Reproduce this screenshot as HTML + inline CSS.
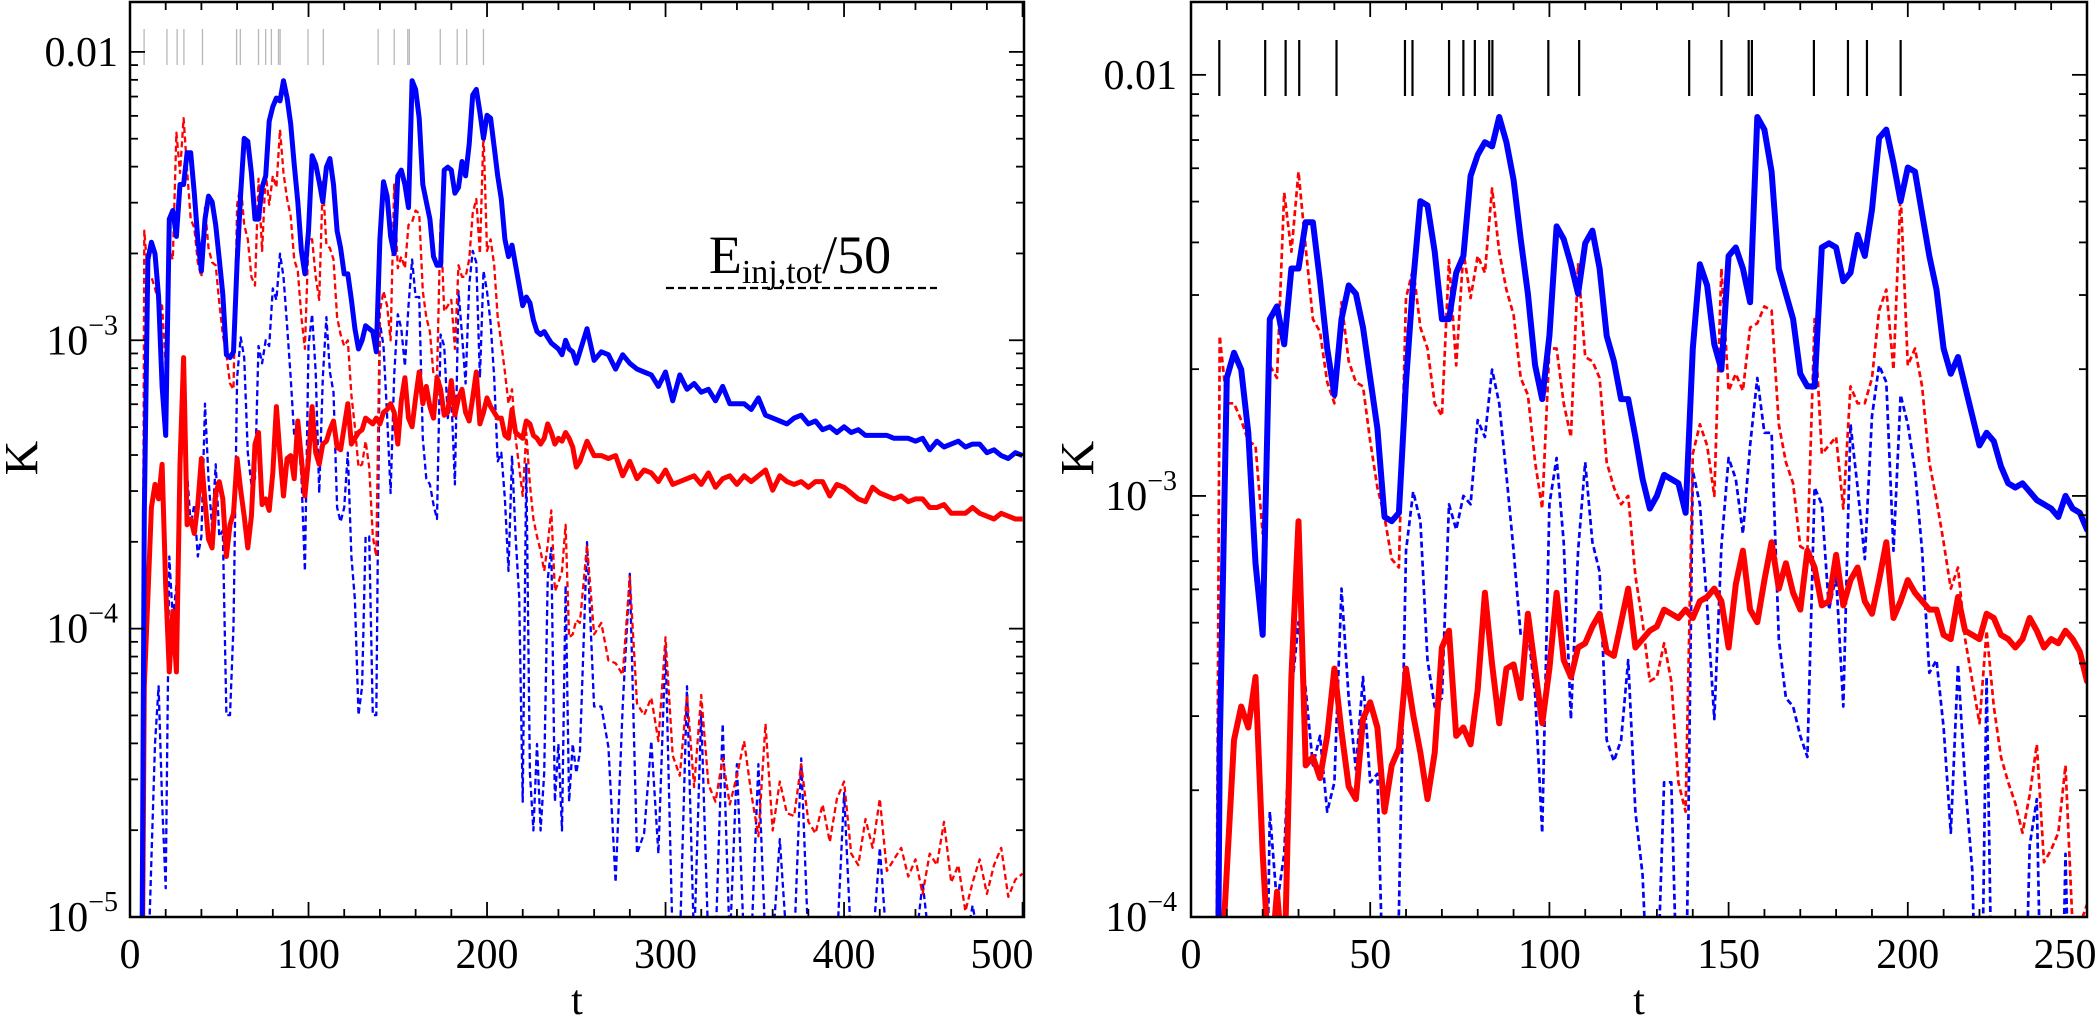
<!DOCTYPE html>
<html><head><meta charset="utf-8">
<style>
html,body{margin:0;padding:0;background:#fff;width:2100px;height:1025px;overflow:hidden;}
svg{display:block;font-family:"Liberation Serif",serif;overflow:hidden;}
</style></head>
<body>
<svg id="chart" width="2100" height="1025" viewBox="0 0 2100 1025" xmlns="http://www.w3.org/2000/svg">
<defs>
<clipPath id="clipL"><rect x="130" y="2" width="894" height="915"/></clipPath>
<clipPath id="clipR"><rect x="1191" y="2" width="896" height="915"/></clipPath>
</defs>
<g id="left"></g>
<g id="right"></g>
<text x="800" y="273" font-size="54" text-anchor="middle">E<tspan font-size="34" dy="10">inj,tot</tspan><tspan dy="-10">/50</tspan></text>
<line x1="666" y1="288" x2="937" y2="288" stroke="#000" stroke-width="2.2" stroke-dasharray="8,4"/>
</svg>
<script>
// ---- data (log10 K) ----
const times = [6,8,10,12,14,16,18,20,22,24,26,28,30,32,34,36,38,40,42,44,46,48,50,52,54,56,58,60,62,64,66,68,70,72,74,76,78,80,82,84,86,88,90,92,94,96,98,100,102,104,106,108,110,112,114,116,118,120,122,124,126,128,130,132,134,136,138,140,142,144,146,148,150,152,154,156,158,160,162,164,166,168,170,172,174,176,178,180,182,184,186,188,190,192,194,196,198,200,202,204,206,208,210,212,214,216,218,220,222,224,226,228,230,232,234,236,238,240,242,244,246,248,250];
const blueSolid = [-6,-3.6,-2.72,-2.66,-2.70,-2.85,-3.16,-3.33,-2.58,-2.55,-2.64,-2.46,-2.46,-2.35,-2.35,-2.49,-2.65,-2.76,-2.58,-2.50,-2.52,-2.60,-2.72,-2.84,-3.05,-3.06,-3.04,-2.73,-2.49,-2.30,-2.31,-2.42,-2.58,-2.58,-2.47,-2.43,-2.24,-2.19,-2.16,-2.17,-2.10,-2.16,-2.25,-2.39,-2.52,-2.69,-2.77,-2.62,-2.36,-2.39,-2.45,-2.52,-2.40,-2.37,-2.46,-2.62,-2.68,-2.77,-2.77,-2.86,-2.96,-3.03,-3.00,-2.95,-2.96,-2.97,-3.04,-2.65,-2.45,-2.50,-2.64,-2.70,-2.43,-2.41,-2.46,-2.54,-2.10,-2.13,-2.23,-2.46,-2.52,-2.58,-2.71,-2.74,-2.74,-2.41,-2.40,-2.41,-2.49,-2.47,-2.38,-2.43,-2.32,-2.15,-2.13,-2.21,-2.30,-2.22,-2.23,-2.33,-2.43,-2.51,-2.65,-2.71,-2.67,-2.74,-2.81,-2.88,-2.85,-2.87,-2.93,-2.97,-2.98,-2.97,-2.99,-3.01,-3.02,-3.03,-3.05,-3.00,-3.03,-3.04,-3.08];
const redSolid = [-6,-4.2,-3.89,-3.58,-3.50,-3.55,-3.43,-3.85,-4.15,-3.94,-4.15,-3.43,-3.06,-3.64,-3.62,-3.67,-3.57,-3.41,-3.56,-3.69,-3.72,-3.53,-3.49,-3.55,-3.75,-3.64,-3.60,-3.41,-3.52,-3.61,-3.72,-3.61,-3.36,-3.32,-3.57,-3.55,-3.59,-3.46,-3.23,-3.40,-3.54,-3.41,-3.40,-3.48,-3.28,-3.41,-3.54,-3.41,-3.23,-3.39,-3.43,-3.36,-3.35,-3.31,-3.28,-3.37,-3.38,-3.30,-3.22,-3.36,-3.34,-3.32,-3.31,-3.27,-3.28,-3.29,-3.27,-3.29,-3.25,-3.24,-3.22,-3.25,-3.36,-3.21,-3.13,-3.27,-3.30,-3.20,-3.11,-3.22,-3.16,-3.23,-3.27,-3.13,-3.17,-3.26,-3.25,-3.14,-3.26,-3.20,-3.17,-3.25,-3.28,-3.20,-3.11,-3.29,-3.25,-3.20,-3.23,-3.25,-3.27,-3.27,-3.33,-3.34,-3.24,-3.32,-3.33,-3.34,-3.28,-3.29,-3.33,-3.34,-3.36,-3.34,-3.29,-3.32,-3.36,-3.34,-3.35,-3.32,-3.34,-3.37,-3.44];
const redDashed = [-6,-2.62,-2.78,-2.78,-2.82,-2.87,-2.88,-3.09,-2.69,-2.72,-2.28,-2.42,-2.23,-2.41,-2.58,-2.61,-2.73,-2.78,-2.54,-2.68,-2.73,-2.74,-2.87,-2.98,-3.05,-3.15,-3.17,-2.53,-2.46,-2.60,-2.65,-2.78,-2.81,-2.44,-2.69,-2.42,-2.53,-2.43,-2.47,-2.27,-2.42,-2.51,-2.57,-2.72,-2.76,-2.92,-3.03,-2.65,-2.65,-2.78,-2.86,-2.45,-2.67,-2.68,-2.72,-2.92,-2.98,-3.02,-3.00,-3.19,-3.30,-3.44,-3.43,-3.35,-3.44,-3.68,-3.75,-2.90,-2.83,-2.88,-3.00,-2.46,-2.75,-2.71,-2.75,-2.60,-2.59,-2.55,-2.56,-2.83,-2.92,-2.97,-3.12,-3.13,-2.58,-2.90,-2.88,-2.86,-3.03,-2.74,-2.78,-2.78,-2.72,-2.56,-2.51,-2.70,-2.28,-2.69,-2.65,-2.74,-2.92,-3.01,-3.11,-3.22,-3.17,-3.34,-3.44,-3.54,-3.32,-3.50,-3.62,-3.68,-3.73,-3.80,-3.71,-3.59,-3.87,-3.84,-3.80,-3.64,-4.03,-4.02,-3.97];
const blueDashed = [-6,-5.2,-5.2,-4.8,-4.4,-4.2,-4.6,-4.9,-3.75,-3.97,-3.85,-3.47,-3.30,-3.46,-3.64,-3.57,-3.75,-3.68,-3.22,-3.48,-3.65,-3.43,-3.68,-3.66,-4.3,-4.3,-3.99,-3.13,-2.99,-3.06,-3.39,-3.50,-3.48,-3.02,-3.08,-3.00,-3.02,-2.82,-2.86,-2.70,-2.78,-2.95,-3.13,-3.33,-3.32,-3.47,-3.80,-3.02,-2.91,-3.11,-3.53,-3.13,-2.92,-3.11,-3.18,-3.58,-3.63,-3.58,-3.39,-3.75,-3.90,-4.3,-4.2,-3.68,-3.68,-4.3,-4.3,-2.94,-3.02,-3.26,-3.53,-3.12,-2.91,-2.96,-3.09,-2.88,-2.72,-2.85,-2.85,-3.34,-3.48,-3.50,-3.57,-3.62,-2.98,-3.02,-3.27,-3.19,-3.50,-2.83,-2.98,-3.15,-2.81,-2.69,-2.73,-3.13,-2.76,-2.83,-2.94,-3.13,-3.42,-3.39,-3.55,-3.80,-3.40,-3.68,-3.89,-4.6,-3.43,-4.5,-4.7,-4.4,-4.7,-4.5,-3.83,-3.72,-4.6,-4.4,-4.7,-3.85,-4.6,-4.4,-4.5];
const tailTimes = [252,256,260,264,268,272,276,280,284,288,292,296,300,304,308,312,316,320,324,328,332,336,340,344,348,352,356,360,364,368,372,376,380,384,388,392,396,400,404,408,412,416,420,424,428,432,436,440,444,448,452,456,460,464,468,472,476,480,484,488,492,496,500];
const blueSolidTail = [-3.04,-2.96,-3.07,-3.04,-3.05,-3.10,-3.05,-3.08,-3.10,-3.11,-3.12,-3.16,-3.11,-3.21,-3.12,-3.17,-3.15,-3.18,-3.17,-3.21,-3.16,-3.22,-3.22,-3.22,-3.24,-3.20,-3.26,-3.27,-3.28,-3.29,-3.27,-3.26,-3.29,-3.28,-3.31,-3.30,-3.32,-3.30,-3.32,-3.31,-3.33,-3.33,-3.33,-3.33,-3.34,-3.34,-3.34,-3.35,-3.34,-3.38,-3.35,-3.37,-3.36,-3.35,-3.37,-3.36,-3.36,-3.39,-3.38,-3.40,-3.41,-3.39,-3.40];
const redSolidTail = [-3.42,-3.35,-3.40,-3.40,-3.41,-3.40,-3.47,-3.42,-3.48,-3.45,-3.46,-3.49,-3.45,-3.50,-3.49,-3.48,-3.47,-3.50,-3.46,-3.51,-3.48,-3.47,-3.50,-3.47,-3.49,-3.47,-3.45,-3.52,-3.47,-3.49,-3.50,-3.49,-3.51,-3.49,-3.49,-3.54,-3.50,-3.51,-3.53,-3.55,-3.56,-3.51,-3.53,-3.54,-3.55,-3.54,-3.56,-3.55,-3.55,-3.58,-3.58,-3.57,-3.60,-3.60,-3.60,-3.58,-3.60,-3.61,-3.62,-3.60,-3.61,-3.62,-3.62];
const redDashedTail = [-3.98,-3.71,-4.02,-3.98,-4.11,-4.12,-4.16,-3.82,-4.26,-4.30,-4.24,-4.39,-4.03,-4.44,-4.51,-4.23,-4.55,-4.23,-4.54,-4.60,-4.45,-4.61,-4.51,-4.39,-4.57,-4.72,-4.33,-4.70,-4.53,-4.64,-4.65,-4.47,-4.67,-4.71,-4.61,-4.74,-4.59,-4.53,-4.78,-4.82,-4.66,-4.76,-4.59,-4.84,-4.80,-4.76,-4.86,-4.80,-4.92,-4.78,-4.82,-4.67,-4.88,-4.82,-4.98,-4.88,-4.80,-4.92,-4.82,-4.76,-4.93,-4.87,-4.85];
const blueDashedTail = [-4.43,-3.70,-4.27,-4.27,-4.41,-4.88,-4.27,-3.81,-4.78,-4.71,-4.39,-4.78,-4.06,-5.1,-5.1,-4.20,-5.1,-4.29,-5.1,-5.1,-4.33,-5.1,-4.47,-5.1,-5.1,-4.47,-5.1,-5.1,-4.73,-5.1,-5.1,-4.45,-5.1,-5.1,-5.1,-5.1,-5.1,-4.57,-5.1,-5.1,-5.1,-5.1,-4.76,-5.1,-5.1,-5.1,-5.1,-5.1,-4.88,-5.1,-5.1,-5.1,-5.1,-5.1,-5.1,-4.96,-5.1,-5.1,-5.1,-5.1,-5.1,-5.1,-5.1];
const eventTimes = [7.9,20.7,26.4,30.2,40.6,59.7,61.8,72.0,76.0,79.2,83.2,84.1,99.7,108.3,139.0,148.0,155.6,156.5,173.8,183.3,188.6,198.0];
const leftXTicks = [0,100,200,300,400,500];
const rightXTicks = [0,50,100,150,200,250];
const leftYDecades = [-5,-4,-3,-2];
const rightYDecades = [-4,-3,-2];

const NS = "http://www.w3.org/2000/svg";
function mk(tag, attrs, parent){ const e=document.createElementNS(NS,tag); for(const k in attrs) e.setAttribute(k,attrs[k]); parent.appendChild(e); return e; }

const panels = {
  left: {g:document.getElementById('left'), x0:130, x1:1024, tmax:500.8, y0:917, y1:2, lmin:-5, lmax:-1.827, clip:'url(#clipL)', minorX:20, majorX:100, xt:leftXTicks, yd:leftYDecades, sw:5, dw:2.3, mark:{c:'#b8b8b8', y1:29, y2:65, w:1.3}, labX:118, kX:22},
  right:{g:document.getElementById('right'), x0:1191, x1:2087, tmax:250, y0:917, y1:2, lmin:-4, lmax:-1.827, clip:'url(#clipR)', minorX:10, majorX:50, xt:rightXTicks, yd:rightYDecades, sw:6, dw:2.7, mark:{c:'#000', y1:40, y2:96, w:2.2}, labX:1177, kX:1078}
};
function X(p,t){ return p.x0 + t/p.tmax*(p.x1-p.x0); }
function Y(p,l){ return p.y0 - (l-p.lmin)/(p.lmax-p.lmin)*(p.y0-p.y1); }

function draw(name){
  const p = panels[name], g = p.g;
  const data = mk('g',{'clip-path':p.clip},g);
  
  
  function series(ts, vs, color, w, dash, label){
    let d='';
    const n=Math.min(ts.length, vs.length);
    for(let i=0;i<n;i++){ if(ts[i]>p.tmax+4) break; d += (i?'L':'M')+X(p,ts[i]).toFixed(1)+','+Y(p,vs[i]).toFixed(1); }
    const a={d:d,fill:'none',stroke:color,'stroke-width':w,'stroke-linejoin':'round'};
    if(dash) a['stroke-dasharray']=dash;
    const el=mk('path',a,data);
    
    
  }
  const cat=(a,b)=>a.concat(b);
  const tt=cat(times,tailTimes);
  series(tt,cat(blueDashed,blueDashedTail),'#0000ff',p.dw,'6,3.5','blue-dashed-line');
  series(tt,cat(redDashed,redDashedTail),'#ff0000',p.dw,'6,3.5','red-dashed-line');
  series(tt,cat(redSolid,redSolidTail),'#ff0000',p.sw,null,'red-solid-line');
  series(tt,cat(blueSolid,blueSolidTail),'#0000ff',p.sw,null,'blue-solid-line');
  eventTimes.forEach(t=>{
    const m=mk('line',{x1:X(p,t),x2:X(p,t),y1:p.mark.y1,y2:p.mark.y2,stroke:p.mark.c,'stroke-width':p.mark.w},g);
    
    
  });
  const fr=mk('rect',{x:p.x0,y:p.y1,width:p.x1-p.x0,height:p.y0-p.y1,fill:'none',stroke:'#000','stroke-width':2.5},g);
  
  
  for(let t=0;t<=p.tmax+0.01;t+=p.minorX){
    const major = Math.abs(t/p.majorX-Math.round(t/p.majorX))<1e-6;
    const L= major?15:8, x=X(p,t);
    mk('line',{x1:x,x2:x,y1:p.y0,y2:p.y0-L,stroke:'#000','stroke-width':1.8},g);
    mk('line',{x1:x,x2:x,y1:p.y1,y2:p.y1+L,stroke:'#000','stroke-width':1.8},g);
  }
  p.xt.forEach(t=>{
    let x=X(p,t); if(x>p.x1-20) x=p.x1-22;
    const tx=mk('text',{x:x,y:968,'font-size':42,'text-anchor':'middle'},g);
    tx.textContent=t;
    
    
  });
  const xt=mk('text',{x:(p.x0+p.x1)/2,y:1014,'font-size':42,'text-anchor':'middle'},g);
  xt.textContent='t';
  
  
  for(let dec=p.lmin; dec<=p.lmax; dec++){
    for(let m=1;m<=9;m++){
      const l=dec+Math.log10(m); if(l>p.lmax) break;
      const y=Y(p,l), L=(m==1)?15:8;
      mk('line',{x1:p.x0,x2:p.x0+L,y1:y,y2:y,stroke:'#000','stroke-width':1.8},g);
      mk('line',{x1:p.x1,x2:p.x1-L,y1:y,y2:y,stroke:'#000','stroke-width':1.8},g);
    }
  }
  p.yd.forEach(dec=>{
    const y=Y(p,dec);
    const tx=mk('text',{x:p.labX,y:y+14,'font-size':42,'text-anchor':'end'},g);
    if(dec===-2){ tx.textContent='0.01'; }
    else {
      const a=document.createElementNS(NS,'tspan'); a.textContent='10'; tx.appendChild(a);
      const b=document.createElementNS(NS,'tspan'); b.setAttribute('font-size','28'); b.setAttribute('dy','-20'); b.textContent='\u2212'+(-dec); tx.appendChild(b);
    }
    
    
  });
  const kt=mk('text',{x:p.kX,y:458,'font-size':48,'text-anchor':'middle',transform:'rotate(-90 '+p.kX+' 458)','dominant-baseline':'central'},g);
  kt.textContent='K';
  
  
}
draw('left'); draw('right');
</script>
</body></html>
